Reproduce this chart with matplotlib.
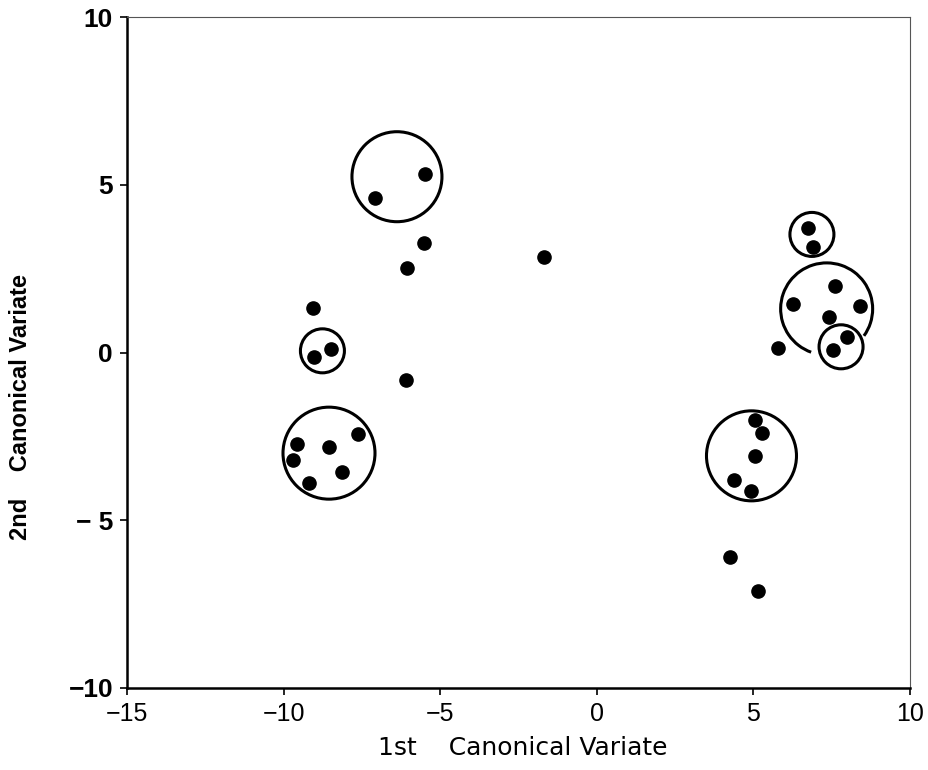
"""Scatter of canonical variates with grouping circles"""

import matplotlib
matplotlib.use("Agg")
from matplotlib import pyplot as plt
from matplotlib.patches import Ellipse, Arc

# observed points (1st, 2nd canonical variate)
cv1 = [-5.49, -7.07, -5.51, -6.07, -9.05, -8.50, -9.04, -6.10,
       -9.58, -9.69, -9.20, -8.55, -8.13, -7.62, -1.69,
       6.73, 6.90, 7.62, 6.27, 8.42, 7.43, 7.98, 7.53, 5.80,
       5.05, 5.29, 5.05, 4.37, 4.93, 4.25, 5.14]
cv2 = [5.31, 4.61, 3.27, 2.53, 1.32, 0.10, -0.13, -0.82,
       -2.74, -3.20, -3.88, -2.81, -3.57, -2.44, 2.85,
       3.72, 3.15, 1.99, 1.45, 1.39, 1.07, 0.45, 0.07, 0.14,
       -2.01, -2.41, -3.08, -3.80, -4.13, -6.09, -7.10]

# grouping circles: centre x, centre y, radius (pixels)
circ_x = [-6.38, -8.76, -8.55, 6.87, 7.80, 4.94]
circ_y = [5.24, 0.05, -3.00, 3.52, 0.17, -3.08]
circ_r = [45, 22, 46, 22, 22, 45]

# open arc round the right-hand group
arc_x, arc_y, arc_r = 7.34, 1.30, 46
arc_from, arc_to = -34, 249

xticks = [-15, -10, -5, 0, 5, 10]
yticks = [10, 5, 0, -5, -10]
ylabels = ["10", "5", "0", "\u2212 5", "\u221210"]
xlabels = ["\u221215", "\u221210", "\u22125", "0", "5", "10"]

fig = plt.figure(figsize=(9.29, 7.70), dpi=100)
ax = fig.add_axes([0.1367, 0.1065, 0.8428, 0.8714])
ax.set_xlim(-15, 10)
ax.set_ylim(-10, 10)

# pixels per data unit, so circles come out round
w_px = 0.8428 * 929
h_px = 0.8714 * 770
px_x = w_px / 25.0
px_y = h_px / 20.0

ax.plot(cv1, cv2, "o", color="black", markersize=9.5, linestyle="none")

for cx, cy, r in zip(circ_x, circ_y, circ_r):
    ax.add_patch(Ellipse((cx, cy), 2 * r / px_x, 2 * r / px_y,
                         fill=False, edgecolor="black", linewidth=2.2))
ax.add_patch(Arc((arc_x, arc_y), 2 * arc_r / px_x, 2 * arc_r / px_y,
                 theta1=arc_from, theta2=arc_to, edgecolor="black", linewidth=2.2))

ax.set_xticks(xticks)
ax.set_xticklabels(xlabels, fontsize=18, family="Liberation Sans")
ax.set_yticks(yticks)
ax.set_yticklabels(ylabels, fontsize=19, fontweight="bold",
                   family="Liberation Sans")
ax.tick_params(direction="out", length=5, width=1.2, pad=5)

for side in ["left", "bottom"]:
    ax.spines[side].set_linewidth(1.8)
for side in ["top", "right"]:
    ax.spines[side].set_linewidth(0.8)
    ax.spines[side].set_color("#555555")

fig.text(523 / 929, 1 - 748 / 770, "1st    Canonical Variate", fontsize=18,
         family="DejaVu Sans", ha="center", va="center")
fig.text(21 / 929, 1 - 407 / 770, "2nd    Canonical Variate", fontsize=17,
         fontweight="bold", family="Liberation Sans", rotation=90,
         ha="center", va="center")

fig.savefig("out.png", dpi=100)
